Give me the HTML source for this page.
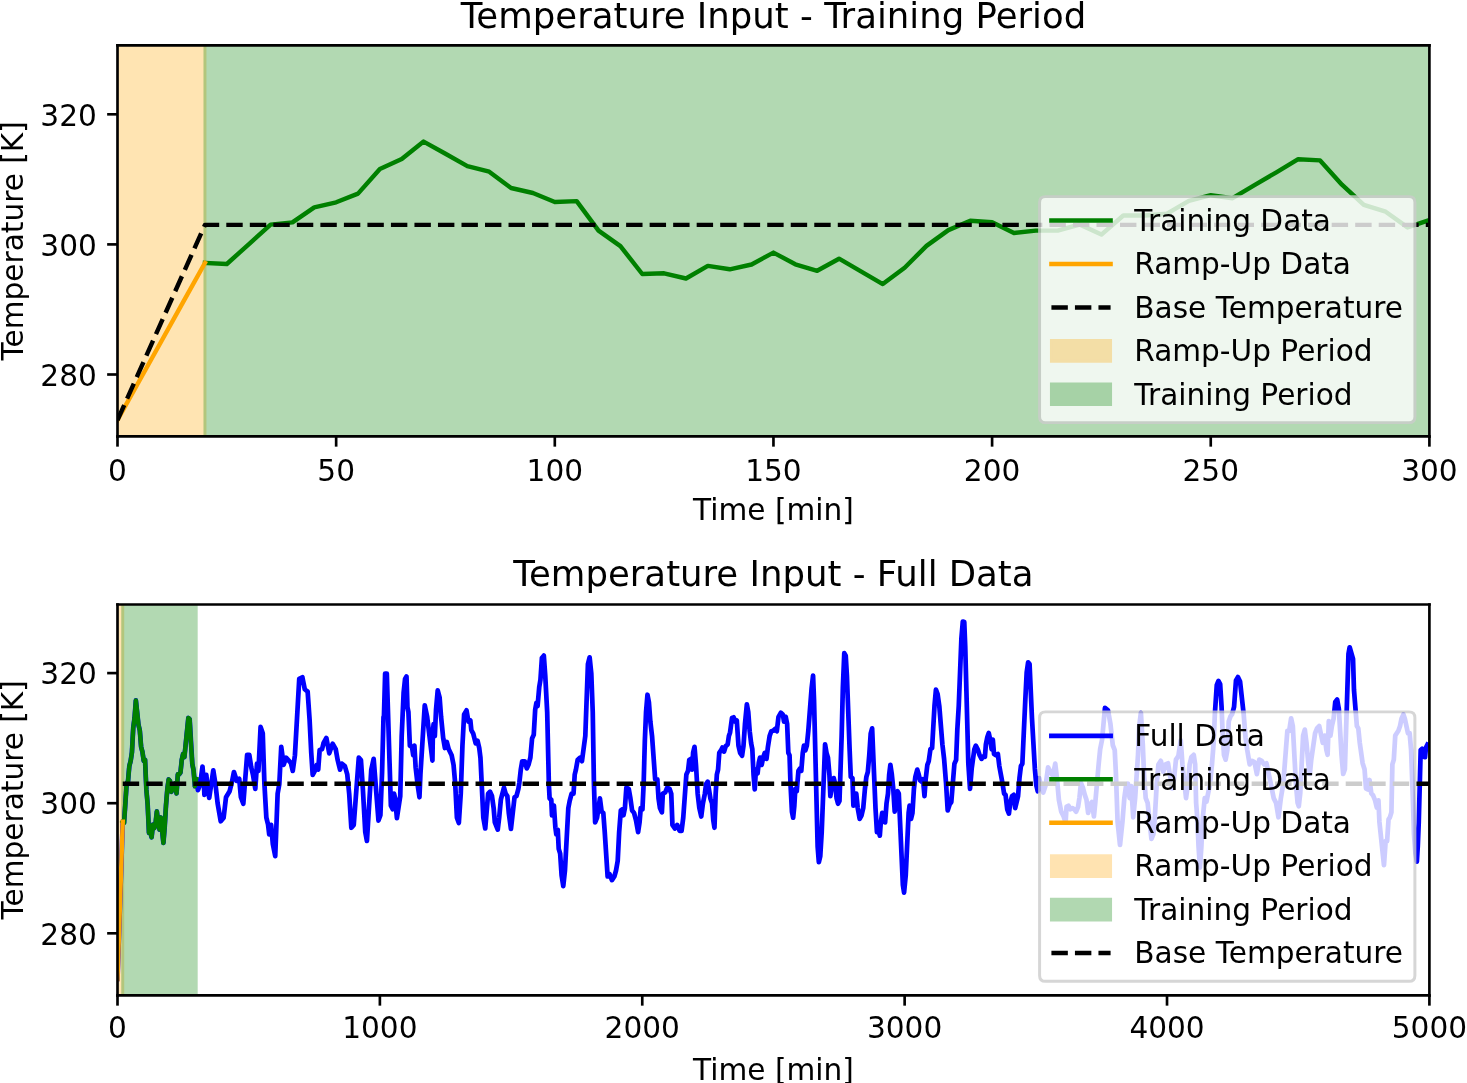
<!DOCTYPE html>
<html><head><meta charset="utf-8"><title>Temperature Input</title>
<style>html,body{margin:0;padding:0;background:#fff;}body{width:1467px;height:1083px;overflow:hidden;}svg{display:block;}text{font-family:"DejaVu Sans","Liberation Sans",sans-serif;}</style>
</head><body>
<svg  width="1467" height="1083" viewBox="0 0 495.887324 366.084507" version="1.1">
 
 <defs>
  <style type="text/css">*{stroke-linejoin: round; stroke-linecap: butt}</style>
 </defs>
 <g id="figure_1">
  <g id="patch_1">
   <path d="M 0 366.084507 
L 495.887324 366.084507 
L 495.887324 0 
L 0 0 
z
" style="fill: #ffffff"/>
  </g>
  <g id="axes_1">
   <g id="patch_2">
    <path d="M 39.71831 147.48169 
L 483.177465 147.48169 
L 483.177465 15.346479 
L 39.71831 15.346479 
z
" style="fill: #ffffff"/>
   </g>
   <g id="patch_3">
    <path d="M 39.71831 147.48169 
L 69.282254 147.48169 
L 69.282254 15.346479 
L 39.71831 15.346479 
z
" clip-path="url(#p11964e3fd9)" style="fill: #ffa500; opacity: 0.3; stroke: #ffa500; stroke-linejoin: miter"/>
   </g>
   <g id="patch_4">
    <path d="M 69.282254 147.48169 
L 483.177465 147.48169 
L 483.177465 15.346479 
L 69.282254 15.346479 
z
" clip-path="url(#p11964e3fd9)" style="fill: #008000; opacity: 0.3; stroke: #008000; stroke-linejoin: miter"/>
   </g>
   <g id="matplotlib.axis_1">
    <g id="xtick_1">
     <g id="line2d_1">
      
      <g>
       <path d="M 0 0 L 0 3.5" transform="translate(39.71831 147.48169)" style="stroke: #000000; stroke-width: 0.9"/>
      </g>
     </g>
     <g id="text_1">
      <text style="font-size: 10px; font-family: 'DejaVu Sans', 'Liberation Sans', sans-serif; text-anchor: middle" x="39.71831" y="162.530128" transform="rotate(-0 39.71831 162.530128)">0</text>
     </g>
    </g>
    <g id="xtick_2">
     <g id="line2d_2">
      <g>
       <path d="M 0 0 L 0 3.5" transform="translate(113.628169 147.48169)" style="stroke: #000000; stroke-width: 0.9"/>
      </g>
     </g>
     <g id="text_2">
      <text style="font-size: 10px; font-family: 'DejaVu Sans', 'Liberation Sans', sans-serif; text-anchor: middle" x="113.628169" y="162.530128" transform="rotate(-0 113.628169 162.530128)">50</text>
     </g>
    </g>
    <g id="xtick_3">
     <g id="line2d_3">
      <g>
       <path d="M 0 0 L 0 3.5" transform="translate(187.538028 147.48169)" style="stroke: #000000; stroke-width: 0.9"/>
      </g>
     </g>
     <g id="text_3">
      <text style="font-size: 10px; font-family: 'DejaVu Sans', 'Liberation Sans', sans-serif; text-anchor: middle" x="187.538028" y="162.530128" transform="rotate(-0 187.538028 162.530128)">100</text>
     </g>
    </g>
    <g id="xtick_4">
     <g id="line2d_4">
      <g>
       <path d="M 0 0 L 0 3.5" transform="translate(261.447887 147.48169)" style="stroke: #000000; stroke-width: 0.9"/>
      </g>
     </g>
     <g id="text_4">
      <text style="font-size: 10px; font-family: 'DejaVu Sans', 'Liberation Sans', sans-serif; text-anchor: middle" x="261.447887" y="162.530128" transform="rotate(-0 261.447887 162.530128)">150</text>
     </g>
    </g>
    <g id="xtick_5">
     <g id="line2d_5">
      <g>
       <path d="M 0 0 L 0 3.5" transform="translate(335.357746 147.48169)" style="stroke: #000000; stroke-width: 0.9"/>
      </g>
     </g>
     <g id="text_5">
      <text style="font-size: 10px; font-family: 'DejaVu Sans', 'Liberation Sans', sans-serif; text-anchor: middle" x="335.357746" y="162.530128" transform="rotate(-0 335.357746 162.530128)">200</text>
     </g>
    </g>
    <g id="xtick_6">
     <g id="line2d_6">
      <g>
       <path d="M 0 0 L 0 3.5" transform="translate(409.267606 147.48169)" style="stroke: #000000; stroke-width: 0.9"/>
      </g>
     </g>
     <g id="text_6">
      <text style="font-size: 10px; font-family: 'DejaVu Sans', 'Liberation Sans', sans-serif; text-anchor: middle" x="409.267606" y="162.530128" transform="rotate(-0 409.267606 162.530128)">250</text>
     </g>
    </g>
    <g id="xtick_7">
     <g id="line2d_7">
      <g>
       <path d="M 0 0 L 0 3.5" transform="translate(483.177465 147.48169)" style="stroke: #000000; stroke-width: 0.9"/>
      </g>
     </g>
     <g id="text_7">
      <text style="font-size: 10px; font-family: 'DejaVu Sans', 'Liberation Sans', sans-serif; text-anchor: middle" x="483.177465" y="162.530128" transform="rotate(-0 483.177465 162.530128)">300</text>
     </g>
    </g>
    <g id="text_8">
     <text style="font-size: 10px; font-family: 'DejaVu Sans', 'Liberation Sans', sans-serif; text-anchor: middle" x="261.447887" y="175.758253" transform="rotate(-0 261.447887 175.758253)">Time [min]</text>
    </g>
   </g>
   <g id="matplotlib.axis_2">
    <g id="ytick_1">
     <g id="line2d_8">
      
      <g>
       <path d="M 0 0 L -3.5 0" transform="translate(39.71831 126.591549)" style="stroke: #000000; stroke-width: 0.9"/>
      </g>
     </g>
     <g id="text_9">
      <text style="font-size: 10px; font-family: 'DejaVu Sans', 'Liberation Sans', sans-serif; text-anchor: end" x="32.71831" y="130.390768" transform="rotate(-0 32.71831 130.390768)">280</text>
     </g>
    </g>
    <g id="ytick_2">
     <g id="line2d_9">
      <g>
       <path d="M 0 0 L -3.5 0" transform="translate(39.71831 82.614085)" style="stroke: #000000; stroke-width: 0.9"/>
      </g>
     </g>
     <g id="text_10">
      <text style="font-size: 10px; font-family: 'DejaVu Sans', 'Liberation Sans', sans-serif; text-anchor: end" x="32.71831" y="86.413303" transform="rotate(-0 32.71831 86.413303)">300</text>
     </g>
    </g>
    <g id="ytick_3">
     <g id="line2d_10">
      <g>
       <path d="M 0 0 L -3.5 0" transform="translate(39.71831 38.63662)" style="stroke: #000000; stroke-width: 0.9"/>
      </g>
     </g>
     <g id="text_11">
      <text style="font-size: 10px; font-family: 'DejaVu Sans', 'Liberation Sans', sans-serif; text-anchor: end" x="32.71831" y="42.435838" transform="rotate(-0 32.71831 42.435838)">320</text>
     </g>
    </g>
    <g id="text_12">
     <text style="font-size: 10px; font-family: 'DejaVu Sans', 'Liberation Sans', sans-serif; text-anchor: middle" x="7.751122" y="81.414085" transform="rotate(-90 7.751122 81.414085)">Temperature [K]</text>
    </g>
   </g>
   <g id="line2d_11">
    <path d="M 69.282254 88.867606 
L 76.673239 89.239437 
L 84.064225 82.580282 
L 91.455211 75.921127 
L 98.846197 75.177465 
L 106.237183 70.073239 
L 113.628169 68.383099 
L 121.019155 65.442254 
L 128.410141 57.126761 
L 135.801127 53.780282 
L 143.192113 47.864789 
L 150.583099 51.988732 
L 157.974085 56.146479 
L 165.36507 58.039437 
L 172.756056 63.549296 
L 180.147042 65.239437 
L 187.538028 68.28169 
L 194.929014 67.977465 
L 202.32 77.949296 
L 209.710986 83.188732 
L 217.101972 92.619718 
L 224.492958 92.383099 
L 231.883944 94.140845 
L 239.27493 89.88169 
L 246.665915 91.030986 
L 254.056901 89.408451 
L 261.447887 85.385915 
L 268.838873 89.340845 
L 276.229859 91.538028 
L 283.620845 87.447887 
L 291.011831 91.707042 
L 298.402817 96.033803 
L 305.793803 90.490141 
L 313.184789 83.121127 
L 320.575775 77.780282 
L 327.966761 74.602817 
L 335.357746 75.109859 
L 342.748732 78.760563 
L 350.139718 77.949296 
L 357.530704 77.949296 
L 364.92169 75.887324 
L 372.312676 79.301408 
L 379.703662 72.84507 
L 387.094648 72.84507 
L 394.485634 72.23662 
L 401.87662 67.909859 
L 409.267606 65.983099 
L 416.658592 66.997183 
L 424.049577 62.569014 
L 431.440563 58.242254 
L 438.831549 53.814085 
L 446.222535 54.219718 
L 453.613521 62.433803 
L 461.004507 69.261972 
L 468.395493 71.560563 
L 475.786479 76.867606 
L 483.177465 74.366197 
" clip-path="url(#p11964e3fd9)" style="fill: none; stroke: #008000; stroke-width: 1.5; stroke-linecap: square"/>
   </g>
   <g id="line2d_12">
    <path d="M 39.71831 141.983662 
L 47.109296 128.704648 
L 54.500282 115.425634 
L 61.891268 102.14662 
L 69.282254 88.867606 
" clip-path="url(#p11964e3fd9)" style="fill: none; stroke: #ffa500; stroke-width: 1.5; stroke-linecap: square"/>
   </g>
   <g id="line2d_13">
    <path d="M 39.71831 141.983662 
L 69.282254 76.017465 
L 483.177465 76.017465 
" clip-path="url(#p11964e3fd9)" style="fill: none; stroke-dasharray: 5.55,2.4; stroke-dashoffset: 0; stroke: #000000; stroke-width: 1.5"/>
   </g>
   <g id="patch_5">
    <path d="M 39.71831 147.48169 
L 39.71831 15.346479 
" style="fill: none; stroke: #000000; stroke-width: 0.9; stroke-linejoin: miter; stroke-linecap: square"/>
   </g>
   <g id="patch_6">
    <path d="M 483.177465 147.48169 
L 483.177465 15.346479 
" style="fill: none; stroke: #000000; stroke-width: 0.9; stroke-linejoin: miter; stroke-linecap: square"/>
   </g>
   <g id="patch_7">
    <path d="M 39.71831 147.48169 
L 483.177465 147.48169 
" style="fill: none; stroke: #000000; stroke-width: 0.9; stroke-linejoin: miter; stroke-linecap: square"/>
   </g>
   <g id="patch_8">
    <path d="M 39.71831 15.346479 
L 483.177465 15.346479 
" style="fill: none; stroke: #000000; stroke-width: 0.9; stroke-linejoin: miter; stroke-linecap: square"/>
   </g>
   <g id="text_13">
    <text style="font-size: 12px; font-family: 'DejaVu Sans', 'Liberation Sans', sans-serif; text-anchor: middle" x="261.447887" y="9.316479" transform="rotate(-0 261.447887 9.316479)">Temperature Input - Training Period</text>
   </g>
   <g id="legend_1" transform="translate(0.101 0.372)">
    <g id="patch_9">
     <path d="M 353.308715 142.48169 
L 476.177465 142.48169 
Q 478.177465 142.48169 478.177465 140.48169 
L 478.177465 68.091065 
Q 478.177465 66.091065 476.177465 66.091065 
L 353.308715 66.091065 
Q 351.308715 66.091065 351.308715 68.091065 
L 351.308715 140.48169 
Q 351.308715 142.48169 353.308715 142.48169 
z
" style="fill: #ffffff; opacity: 0.8; stroke: #cccccc; stroke-linejoin: miter"/>
    </g>
    <g id="line2d_14">
     <path d="M 355.308715 74.189503 
L 365.308715 74.189503 
L 375.308715 74.189503 
" style="fill: none; stroke: #008000; stroke-width: 1.5; stroke-linecap: square"/>
    </g>
    <g id="text_14">
     <text style="font-size: 10px; font-family: 'DejaVu Sans', 'Liberation Sans', sans-serif; text-anchor: start" x="383.308715" y="77.689503" transform="rotate(-0 383.308715 77.689503)">Training Data</text>
    </g>
    <g id="line2d_15">
     <path d="M 355.308715 88.867628 
L 365.308715 88.867628 
L 375.308715 88.867628 
" style="fill: none; stroke: #ffa500; stroke-width: 1.5; stroke-linecap: square"/>
    </g>
    <g id="text_15">
     <text style="font-size: 10px; font-family: 'DejaVu Sans', 'Liberation Sans', sans-serif; text-anchor: start" x="383.308715" y="92.367628" transform="rotate(-0 383.308715 92.367628)">Ramp-Up Data</text>
    </g>
    <g id="line2d_16">
     <path d="M 355.308715 103.545753 
L 365.308715 103.545753 
L 375.308715 103.545753 
" style="fill: none; stroke-dasharray: 5.55,2.4; stroke-dashoffset: 0; stroke: #000000; stroke-width: 1.5"/>
    </g>
    <g id="text_16">
     <text style="font-size: 10px; font-family: 'DejaVu Sans', 'Liberation Sans', sans-serif; text-anchor: start" x="383.308715" y="107.045753" transform="rotate(-0 383.308715 107.045753)">Base Temperature</text>
    </g>
    <g id="patch_10">
     <path d="M 355.308715 121.723878 
L 375.308715 121.723878 
L 375.308715 114.723878 
L 355.308715 114.723878 
z
" style="fill: #ffa500; opacity: 0.3; stroke: #ffa500; stroke-linejoin: miter"/>
    </g>
    <g id="text_17">
     <text style="font-size: 10px; font-family: 'DejaVu Sans', 'Liberation Sans', sans-serif; text-anchor: start" x="383.308715" y="121.723878" transform="rotate(-0 383.308715 121.723878)">Ramp-Up Period</text>
    </g>
    <g id="patch_11">
     <path d="M 355.308715 136.402003 
L 375.308715 136.402003 
L 375.308715 129.402003 
L 355.308715 129.402003 
z
" style="fill: #008000; opacity: 0.3; stroke: #008000; stroke-linejoin: miter"/>
    </g>
    <g id="text_18">
     <text style="font-size: 10px; font-family: 'DejaVu Sans', 'Liberation Sans', sans-serif; text-anchor: start" x="383.308715" y="136.402003" transform="rotate(-0 383.308715 136.402003)">Training Period</text>
    </g>
   </g>
  </g>
  <g id="axes_2">
   <g id="patch_12">
    <path d="M 39.71831 336.439437 
L 483.177465 336.439437 
L 483.177465 204.338028 
L 39.71831 204.338028 
z
" style="fill: #ffffff"/>
   </g>
   <g id="patch_13">
    <path d="M 39.71831 336.439437 
L 41.492146 336.439437 
L 41.492146 204.338028 
L 39.71831 204.338028 
z
" clip-path="url(#p4fdfc51140)" style="fill: #ffa500; opacity: 0.3; stroke: #ffa500; stroke-linejoin: miter"/>
   </g>
   <g id="patch_14">
    <path d="M 41.492146 336.439437 
L 66.325859 336.439437 
L 66.325859 204.338028 
L 41.492146 204.338028 
z
" clip-path="url(#p4fdfc51140)" style="fill: #008000; opacity: 0.3; stroke: #008000; stroke-linejoin: miter"/>
   </g>
   <g id="matplotlib.axis_3">
    <g id="xtick_8">
     <g id="line2d_17">
      <g>
       <path d="M 0 0 L 0 3.5" transform="translate(39.71831 336.439437)" style="stroke: #000000; stroke-width: 0.9"/>
      </g>
     </g>
     <g id="text_19">
      <text style="font-size: 10px; font-family: 'DejaVu Sans', 'Liberation Sans', sans-serif; text-anchor: middle" x="39.71831" y="351.037874" transform="rotate(-0 39.71831 351.037874)">0</text>
     </g>
    </g>
    <g id="xtick_9">
     <g id="line2d_18">
      <g>
       <path d="M 0 0 L 0 3.5" transform="translate(128.410141 336.439437)" style="stroke: #000000; stroke-width: 0.9"/>
      </g>
     </g>
     <g id="text_20">
      <text style="font-size: 10px; font-family: 'DejaVu Sans', 'Liberation Sans', sans-serif; text-anchor: middle" x="128.410141" y="351.037874" transform="rotate(-0 128.410141 351.037874)">1000</text>
     </g>
    </g>
    <g id="xtick_10">
     <g id="line2d_19">
      <g>
       <path d="M 0 0 L 0 3.5" transform="translate(217.101972 336.439437)" style="stroke: #000000; stroke-width: 0.9"/>
      </g>
     </g>
     <g id="text_21">
      <text style="font-size: 10px; font-family: 'DejaVu Sans', 'Liberation Sans', sans-serif; text-anchor: middle" x="217.101972" y="351.037874" transform="rotate(-0 217.101972 351.037874)">2000</text>
     </g>
    </g>
    <g id="xtick_11">
     <g id="line2d_20">
      <g>
       <path d="M 0 0 L 0 3.5" transform="translate(305.793803 336.439437)" style="stroke: #000000; stroke-width: 0.9"/>
      </g>
     </g>
     <g id="text_22">
      <text style="font-size: 10px; font-family: 'DejaVu Sans', 'Liberation Sans', sans-serif; text-anchor: middle" x="305.793803" y="351.037874" transform="rotate(-0 305.793803 351.037874)">3000</text>
     </g>
    </g>
    <g id="xtick_12">
     <g id="line2d_21">
      <g>
       <path d="M 0 0 L 0 3.5" transform="translate(394.485634 336.439437)" style="stroke: #000000; stroke-width: 0.9"/>
      </g>
     </g>
     <g id="text_23">
      <text style="font-size: 10px; font-family: 'DejaVu Sans', 'Liberation Sans', sans-serif; text-anchor: middle" x="394.485634" y="351.037874" transform="rotate(-0 394.485634 351.037874)">4000</text>
     </g>
    </g>
    <g id="xtick_13">
     <g id="line2d_22">
      <g>
       <path d="M 0 0 L 0 3.5" transform="translate(483.177465 336.439437)" style="stroke: #000000; stroke-width: 0.9"/>
      </g>
     </g>
     <g id="text_24">
      <text style="font-size: 10px; font-family: 'DejaVu Sans', 'Liberation Sans', sans-serif; text-anchor: middle" x="483.177465" y="351.037874" transform="rotate(-0 483.177465 351.037874)">5000</text>
     </g>
    </g>
    <g id="text_25">
     <text style="font-size: 10px; font-family: 'DejaVu Sans', 'Liberation Sans', sans-serif; text-anchor: middle" x="261.447887" y="365.215999" transform="rotate(-0 261.447887 365.215999)">Time [min]</text>
    </g>
   </g>
   <g id="matplotlib.axis_4">
    <g id="ytick_4">
     <g id="line2d_23">
      <g>
       <path d="M 0 0 L -3.5 0" transform="translate(39.71831 315.48169)" style="stroke: #000000; stroke-width: 0.9"/>
      </g>
     </g>
     <g id="text_26">
      <text style="font-size: 10px; font-family: 'DejaVu Sans', 'Liberation Sans', sans-serif; text-anchor: end" x="32.71831" y="319.280909" transform="rotate(-0 32.71831 319.280909)">280</text>
     </g>
    </g>
    <g id="ytick_5">
     <g id="line2d_24">
      <g>
       <path d="M 0 0 L -3.5 0" transform="translate(39.71831 271.504225)" style="stroke: #000000; stroke-width: 0.9"/>
      </g>
     </g>
     <g id="text_27">
      <text style="font-size: 10px; font-family: 'DejaVu Sans', 'Liberation Sans', sans-serif; text-anchor: end" x="32.71831" y="275.303444" transform="rotate(-0 32.71831 275.303444)">300</text>
     </g>
    </g>
    <g id="ytick_6">
     <g id="line2d_25">
      <g>
       <path d="M 0 0 L -3.5 0" transform="translate(39.71831 227.526761)" style="stroke: #000000; stroke-width: 0.9"/>
      </g>
     </g>
     <g id="text_28">
      <text style="font-size: 10px; font-family: 'DejaVu Sans', 'Liberation Sans', sans-serif; text-anchor: end" x="32.71831" y="231.325979" transform="rotate(-0 32.71831 231.325979)">320</text>
     </g>
    </g>
    <g id="text_29">
     <text style="font-size: 10px; font-family: 'DejaVu Sans', 'Liberation Sans', sans-serif; text-anchor: middle" x="7.751122" y="270.388732" transform="rotate(-90 7.751122 270.388732)">Temperature [K]</text>
    </g>
   </g>
   <g id="line2d_26">
    <path d="M 39.71831 330.873803 
L 41.492146 277.757746 
L 41.935606 278.129577 
L 42.822524 264.811268 
L 43.265983 264.067606 
L 43.709442 258.96338 
L 44.152901 257.273239 
L 44.596361 254.332394 
L 45.03982 246.016901 
L 45.483279 242.670423 
L 45.926738 236.75493 
L 46.813656 245.03662 
L 47.257115 246.929577 
L 47.700575 252.439437 
L 48.144034 254.129577 
L 48.587493 257.171831 
L 49.030952 256.867606 
L 49.474411 266.839437 
L 49.91787 272.078873 
L 50.36133 281.509859 
L 50.804789 281.273239 
L 51.248248 283.030986 
L 51.691707 278.771831 
L 52.135166 279.921127 
L 52.578625 278.298592 
L 53.022085 274.276056 
L 53.465544 278.230986 
L 53.909003 280.428169 
L 54.352462 276.338028 
L 55.23938 284.923944 
L 55.682839 279.380282 
L 56.126299 272.011268 
L 56.569758 266.670423 
L 57.013217 263.492958 
L 57.456676 264 
L 57.900135 267.650704 
L 58.343594 266.839437 
L 58.787054 266.839437 
L 59.230513 264.777465 
L 59.673972 268.191549 
L 60.117431 261.735211 
L 60.56089 261.735211 
L 61.004349 261.126761 
L 61.447808 256.8 
L 61.891268 254.873239 
L 62.334727 255.887324 
L 63.665104 242.704225 
L 64.108563 243.109859 
L 64.995482 258.152113 
L 65.438941 260.450704 
L 65.8824 265.757746 
L 66.325859 263.256338 
L 66.335492 263.410378 
L 66.903607 267.062543 
L 67.63404 265.27704 
L 68.445632 259.108939 
L 68.932587 265.033563 
L 69.094906 268.685728 
L 69.744179 261.949512 
L 70.231135 266.656747 
L 70.71809 269.740798 
L 72.097797 260.407487 
L 72.82823 265.033563 
L 73.558663 271.526301 
L 74.613733 277.613242 
L 75.587644 276.395854 
L 76.399236 269.49732 
L 77.616624 267.468339 
L 78.428216 264.22197 
L 79.07749 260.975602 
L 80.051401 263.978493 
L 80.862993 263.24806 
L 81.431108 269.49732 
L 82.2427 271.688619 
L 83.541247 255.132137 
L 84.271681 255.132137 
L 84.920954 259.352417 
L 85.489069 261.787194 
L 86.300661 266.656747 
L 86.868776 258.135029 
L 87.355731 260.569805 
L 88.086164 245.717667 
L 88.816597 247.827807 
L 89.384712 265.033563 
L 90.033985 276.395854 
L 90.6021 278.668312 
L 91.007896 282.077 
L 91.65717 278.830631 
L 92.225284 285.323369 
L 93.036877 289.38133 
L 93.848469 268.279932 
L 94.416584 265.033563 
L 95.065857 252.453883 
L 95.87745 258.540825 
L 96.689042 256.106048 
L 98.312226 257.891551 
L 98.9615 260.569805 
L 99.691933 255.294456 
L 101.152799 229.485822 
L 102.207869 228.917708 
L 103.019461 232.975669 
L 103.993372 233.787261 
L 104.642646 243.120572 
L 105.21076 254.482864 
L 105.697716 261.949512 
L 106.428149 260.569805 
L 107.077423 258.540825 
L 107.564378 260.164009 
L 108.051333 253.508953 
L 108.862925 253.265475 
L 109.349881 251.236495 
L 110.323791 249.450992 
L 111.297702 254.645182 
L 112.433931 251.398813 
L 113.489001 253.265475 
L 114.138275 256.91764 
L 114.949867 260.164009 
L 115.517982 258.135029 
L 116.573052 258.946621 
L 117.384644 261.787194 
L 118.033918 268.279932 
L 118.764351 279.804542 
L 119.575943 278.830631 
L 121.280287 256.106048 
L 122.01072 256.91764 
L 122.659994 266.656747 
L 123.471586 281.265408 
L 124.0397 284.268299 
L 125.500566 260.164009 
L 126.312159 256.511844 
L 127.935343 277.369765 
L 128.584617 275.584262 
L 129.152732 260.975602 
L 129.639687 242.30898 
L 129.777658 242.30898 
L 130.183454 227.70032 
L 130.751568 227.70032 
L 132.131275 272.337893 
L 132.780549 273.555281 
L 133.186345 268.279932 
L 133.592141 269.903116 
L 134.160256 276.558173 
L 135.296485 269.091524 
L 135.78344 248.801718 
L 136.432714 234.193058 
L 136.919669 229.485822 
L 137.406625 228.67423 
L 137.731262 239.062611 
L 138.055898 240.685795 
L 138.542854 252.048087 
L 139.273287 252.453883 
L 139.679083 255.294456 
L 140.084879 252.048087 
L 140.490675 259.352417 
L 141.139949 265.033563 
L 141.789223 269.49732 
L 142.11386 261.787194 
L 143.574726 238.413337 
L 144.386318 242.30898 
L 146.171821 257.079959 
L 146.334139 247.178533 
L 146.577617 244.743757 
L 146.983413 248.801718 
L 147.389209 239.874203 
L 147.957324 233.381465 
L 148.606598 235.816242 
L 149.093553 242.30898 
L 149.823986 249.61331 
L 150.392101 252.859679 
L 151.041374 250.830698 
L 151.690648 253.265475 
L 152.664559 255.294456 
L 153.313833 258.540825 
L 153.881947 265.033563 
L 154.450062 276.395854 
L 155.099336 278.181357 
L 155.748609 268.279932 
L 156.316724 252.048087 
L 156.884838 241.497388 
L 157.696431 240.117681 
L 158.345704 243.932164 
L 158.994978 243.526368 
L 159.319615 246.772737 
L 159.968889 247.990126 
L 160.780481 251.236495 
L 161.429755 250.424902 
L 161.99787 252.859679 
L 162.403666 256.106048 
L 163.377576 276.395854 
L 164.02685 280.048019 
L 165.000761 268.279932 
L 165.650035 267.630658 
L 166.299308 269.091524 
L 166.867423 273.149485 
L 167.273219 278.019039 
L 168.24713 280.453815 
L 168.734085 276.395854 
L 169.3022 270.308912 
L 170.35727 266.250951 
L 170.925384 268.279932 
L 171.493499 269.091524 
L 171.980454 274.77267 
L 172.710887 280.210338 
L 173.928276 269.49732 
L 174.577549 269.091524 
L 175.226823 266.656747 
L 175.55146 264.627767 
L 176.038415 260.164009 
L 176.525371 257.323436 
L 177.418122 257.323436 
L 178.067396 259.758213 
L 178.635511 258.540825 
L 179.284784 256.106048 
L 179.852899 249.61331 
L 180.421013 248.395922 
L 180.907969 239.874203 
L 181.313765 237.601745 
L 181.719561 238.656815 
L 182.287676 232.164077 
L 182.693472 229.7293 
L 183.180427 222.42497 
L 183.829701 221.613378 
L 184.316656 228.511912 
L 184.96593 240.685795 
L 185.534045 265.033563 
L 185.777522 269.903116 
L 186.345637 270.308912 
L 186.589115 275.584262 
L 187.238388 272.337893 
L 187.725344 279.642223 
L 188.049981 282.077 
L 188.536936 280.453815 
L 188.861573 286.946553 
L 189.348528 288.569738 
L 189.835483 295.874068 
L 190.403598 299.526233 
L 190.971713 294.250883 
L 192.107942 273.149485 
L 192.570549 270.714708 
L 193.219823 268.279932 
L 193.869097 268.279932 
L 194.274893 261.787194 
L 194.680689 260.164009 
L 195.248804 256.91764 
L 196.060396 256.106048 
L 196.70967 257.323436 
L 197.845899 248.801718 
L 198.73865 224.453951 
L 199.306765 222.181492 
L 199.87488 227.70032 
L 200.361835 240.685795 
L 200.767631 265.033563 
L 201.173427 278.019039 
L 201.822701 276.395854 
L 202.796612 269.903116 
L 203.364726 274.366874 
L 203.932841 274.77267 
L 204.419796 281.265408 
L 205.393707 296.279864 
L 206.042981 295.468272 
L 206.854573 297.497252 
L 207.666165 296.279864 
L 208.23428 294.250883 
L 208.802394 291.004514 
L 209.28935 281.265408 
L 209.857464 273.961077 
L 210.425579 273.555281 
L 210.750216 275.584262 
L 211.237171 273.149485 
L 211.724126 266.250951 
L 212.535719 266.656747 
L 213.103833 269.903116 
L 213.671948 273.961077 
L 214.321221 274.77267 
L 214.970495 277.207446 
L 215.700928 281.265408 
L 216.187884 278.019039 
L 216.59368 273.149485 
L 217.161794 273.555281 
L 217.56759 265.033563 
L 217.973387 250.424902 
L 218.379183 240.685795 
L 218.866138 234.842331 
L 219.353093 237.439426 
L 219.840049 243.932164 
L 220.408163 248.801718 
L 221.463233 263.410378 
L 222.193666 263.410378 
L 222.599462 269.903116 
L 223.086418 273.149485 
L 223.735691 274.610351 
L 224.060328 268.279932 
L 224.871921 267.874136 
L 225.521194 266.250951 
L 226.332787 266.656747 
L 226.900901 268.279932 
L 227.306697 278.830631 
L 228.11829 280.048019 
L 228.929882 278.830631 
L 229.741474 280.859611 
L 230.390748 280.859611 
L 230.958862 276.395854 
L 232.013932 261.787194 
L 232.582047 260.569805 
L 232.987843 256.91764 
L 233.555958 256.511844 
L 233.961754 260.164009 
L 234.286391 254.482864 
L 234.773346 252.453883 
L 235.260301 258.540825 
L 235.828416 268.279932 
L 236.39653 273.149485 
L 237.045804 275.990058 
L 237.613919 271.526301 
L 238.263193 268.279932 
L 238.668989 265.033563 
L 239.237103 264.22197 
L 240.129855 269.903116 
L 240.697969 271.526301 
L 241.103765 277.207446 
L 241.509562 279.804542 
L 241.915358 268.279932 
L 242.321154 261.787194 
L 242.72695 260.164009 
L 243.132746 254.482864 
L 243.700861 253.671271 
L 244.187816 252.697361 
L 244.755931 254.077067 
L 245.324045 252.210405 
L 245.973319 251.642291 
L 246.379115 248.801718 
L 246.784911 247.58433 
L 247.434185 242.714776 
L 248.0023 242.471298 
L 248.570414 243.932164 
L 249.057369 243.526368 
L 249.625484 252.048087 
L 250.193599 254.482864 
L 250.842872 255.456774 
L 251.329828 252.048087 
L 251.816783 244.743757 
L 252.466057 238.0887 
L 252.928664 240.685795 
L 253.41562 247.178533 
L 253.902575 251.236495 
L 254.308371 253.265475 
L 254.714167 261.787194 
L 255.119963 266.819066 
L 255.52576 260.164009 
L 256.093874 261.381398 
L 256.49967 257.729233 
L 256.905466 256.106048 
L 257.473581 258.540825 
L 257.960536 256.106048 
L 258.528651 254.482864 
L 259.096765 256.511844 
L 259.583721 252.453883 
L 260.151835 248.801718 
L 260.71995 247.178533 
L 261.369224 247.016215 
L 262.018498 246.366941 
L 262.586612 247.178533 
L 263.154727 242.30898 
L 263.966319 240.929273 
L 264.615593 241.497388 
L 265.021389 243.932164 
L 265.589503 242.30898 
L 266.076459 244.743757 
L 266.482255 254.482864 
L 266.888051 255.294456 
L 267.212688 265.033563 
L 267.699643 274.366874 
L 268.105439 276.395854 
L 268.511235 272.337893 
L 268.835872 266.656747 
L 269.322828 267.468339 
L 269.890942 260.569805 
L 270.459057 259.758213 
L 270.864853 260.569805 
L 271.351808 254.482864 
L 271.757604 252.048087 
L 272.24456 253.671271 
L 272.731515 252.048087 
L 273.21847 247.178533 
L 274.3547 232.569873 
L 274.841655 228.349593 
L 275.166292 236.627834 
L 276.38368 286.134961 
L 276.789476 291.410311 
L 277.276432 289.38133 
L 277.763387 281.265408 
L 278.899616 251.642291 
L 279.386572 254.482864 
L 279.873527 256.106048 
L 280.360482 261.787194 
L 280.685119 269.091524 
L 281.253234 265.033563 
L 281.821348 263.004582 
L 282.308304 265.033563 
L 282.795259 269.903116 
L 283.282214 271.688619 
L 283.76917 270.714708 
L 284.499603 248.801718 
L 284.905399 232.569873 
L 285.392354 220.801786 
L 285.879309 221.613378 
L 286.285106 228.511912 
L 287.177857 252.859679 
L 287.583653 262.598786 
L 288.151768 263.004582 
L 288.476405 272.337893 
L 288.96336 268.279932 
L 289.450315 268.279932 
L 289.937271 273.149485 
L 290.586544 276.80165 
L 291.235818 275.584262 
L 291.803933 273.149485 
L 292.372047 266.656747 
L 292.859003 262.598786 
L 293.345958 260.975602 
L 293.832913 255.294456 
L 294.319869 247.990126 
L 294.806824 246.204623 
L 295.456098 261.787194 
L 295.943053 273.149485 
L 296.430009 281.265408 
L 296.916964 280.453815 
L 297.403919 282.482796 
L 297.728556 278.019039 
L 298.215512 274.77267 
L 298.702467 275.178466 
L 299.189422 278.019039 
L 299.676378 271.526301 
L 300.163333 268.279932 
L 300.569129 261.787194 
L 300.974925 258.540825 
L 301.461881 261.787194 
L 301.948836 266.656747 
L 302.435791 274.366874 
L 302.922747 268.279932 
L 303.409702 267.468339 
L 303.815498 268.279932 
L 305.195205 299.120437 
L 305.601001 301.717532 
L 306.169116 295.874068 
L 307.143026 274.77267 
L 307.467663 272.337893 
L 307.954618 276.80165 
L 308.441574 274.77267 
L 308.928529 266.656747 
L 309.415485 262.598786 
L 310.064758 260.164009 
L 310.551714 261.787194 
L 311.038669 263.816174 
L 311.525624 264.22197 
L 312.01258 263.410378 
L 312.499535 269.091524 
L 312.905331 263.410378 
L 313.473446 258.540825 
L 313.936053 257.327494 
L 314.504168 253.269533 
L 315.072282 252.863737 
L 315.883875 238.660873 
L 316.37083 233.142046 
L 316.938945 234.602912 
L 317.507059 238.660873 
L 318.562129 251.646349 
L 319.130244 256.515902 
L 319.779517 264.631825 
L 320.347632 273.965135 
L 320.996906 271.936155 
L 321.56502 271.124563 
L 322.62009 258.139087 
L 323.188205 256.921698 
L 323.594001 246.776795 
L 324.080956 238.660873 
L 324.973708 215.93629 
L 325.460663 210.092826 
L 325.947618 210.255144 
L 326.272255 218.371067 
L 327.327325 258.139087 
L 327.89544 266.660805 
L 328.463554 259.762271 
L 329.356306 253.269533 
L 329.843261 252.052145 
L 330.492535 253.269533 
L 331.141809 255.298514 
L 331.791083 256.515902 
L 332.359197 255.70431 
L 332.927312 255.866628 
L 333.251949 251.646349 
L 333.738904 249.211572 
L 334.225859 247.750706 
L 334.712815 250.023164 
L 335.19977 253.269533 
L 335.605566 250.023164 
L 336.011362 254.892718 
L 336.660636 255.298514 
L 337.30991 254.892718 
L 337.796865 258.950679 
L 338.851935 264.631825 
L 339.42005 268.28399 
L 339.907005 268.689786 
L 340.47512 273.559339 
L 341.043234 275.020205 
L 341.53019 271.124563 
L 342.098304 269.095582 
L 342.666419 268.689786 
L 343.153374 273.153543 
L 344.127285 269.095582 
L 344.61424 263.00864 
L 345.101195 258.950679 
L 345.588151 258.139087 
L 346.562061 237.037688 
L 347.049017 227.298581 
L 347.535972 223.889894 
L 348.022927 224.458009 
L 348.83452 242.718834 
L 349.80843 259.762271 
L 350.295386 265.443417 
L 350.782341 267.472397 
L 351.269296 263.00864 
L 351.837411 265.443417 
L 352.649003 267.878194 
L 353.460596 265.443417 
L 354.272188 259.356475 
L 355.08378 260.979659 
L 355.895372 262.197048 
L 356.706964 258.139087 
L 357.275079 263.00864 
L 357.924353 270.31297 
L 358.735945 274.370931 
L 359.547537 275.994116 
L 360.196811 278.023097 
L 360.521448 272.747747 
L 361.170722 272.341951 
L 361.819996 273.559339 
L 362.469269 273.153543 
L 363.118543 273.559339 
L 363.767817 274.370931 
L 364.417091 272.747747 
L 364.904046 269.501378 
L 365.391001 264.631825 
L 366.040275 266.255009 
L 366.689549 268.689786 
L 367.257664 270.31297 
L 367.825778 274.776728 
L 368.475052 271.936155 
L 369.124326 271.124563 
L 369.7736 275.994116 
L 370.260555 271.124563 
L 371.396784 258.139087 
L 371.883739 253.269533 
L 372.533013 250.023164 
L 373.506924 239.310147 
L 374.537646 240.146087 
L 375.349238 244.609844 
L 376.160831 251.914174 
L 376.810104 253.537359 
L 377.2159 261.653281 
L 377.784015 277.885126 
L 378.595607 285.595252 
L 379.407199 277.885126 
L 380.056473 269.769203 
L 380.624588 265.711242 
L 381.273862 264.89965 
L 381.841976 269.769203 
L 382.410091 265.711242 
L 383.059365 276.261941 
L 383.708638 269.769203 
L 384.682549 255.160543 
L 385.088345 245.421436 
L 385.65646 240.957679 
L 386.305734 251.914174 
L 386.71153 261.653281 
L 387.279644 269.769203 
L 387.928918 271.392388 
L 389.227466 283.566272 
L 389.876739 281.943087 
L 390.363695 276.261941 
L 391.012969 264.89965 
L 391.581083 258.406912 
L 392.392675 257.189524 
L 393.204268 260.841689 
L 394.01586 258.406912 
L 394.827452 258.001116 
L 396.207159 266.522834 
L 396.856433 263.276466 
L 397.505707 256.783728 
L 398.317299 255.566339 
L 399.128891 250.29099 
L 399.697006 258.406912 
L 400.914394 269.769203 
L 401.563668 264.89965 
L 402.131782 258.406912 
L 402.699897 255.972135 
L 403.511489 255.160543 
L 403.998444 258.406912 
L 404.323081 271.392388 
L 404.810037 277.885126 
L 405.134674 286.001048 
L 405.621629 293.305378 
L 406.108584 286.001048 
L 406.59554 276.261941 
L 407.244813 269.769203 
L 407.812928 270.986592 
L 409.030316 264.89965 
L 409.67959 258.406912 
L 410.247705 251.102582 
L 410.653501 241.363475 
L 411.302775 231.624368 
L 411.870889 230.163502 
L 412.439004 231.218572 
L 412.925959 238.928698 
L 413.250596 247.044621 
L 413.737551 255.160543 
L 414.305666 256.783728 
L 414.87378 253.537359 
L 415.360736 243.798252 
L 415.92885 242.175067 
L 416.496965 241.363475 
L 417.146239 238.928698 
L 417.795513 230.001184 
L 418.444786 228.864954 
L 419.175219 230.40698 
L 420.392608 241.363475 
L 421.041882 249.479397 
L 421.609996 253.537359 
L 422.421588 258.406912 
L 423.233181 257.189524 
L 424.044773 257.59532 
L 424.856365 261.653281 
L 425.667957 256.783728 
L 426.47955 257.189524 
L 427.291142 258.406912 
L 428.102734 258.001116 
L 429.725919 265.711242 
L 430.537511 269.769203 
L 431.349103 271.392388 
L 432.160695 276.261941 
L 432.972288 269.769203 
L 433.78388 264.89965 
L 435.163587 247.044621 
L 435.784618 247.024173 
L 436.433502 242.806425 
L 437.001276 245.401962 
L 438.055713 264.868491 
L 438.623487 271.357334 
L 439.029039 272.573992 
L 439.515702 268.112913 
L 440.489029 248.646383 
L 441.056803 246.61862 
L 441.624576 251.0797 
L 442.273461 258.379648 
L 442.760124 261.62407 
L 443.246787 256.757437 
L 444.544556 247.835278 
L 445.19344 246.213067 
L 445.923435 245.401962 
L 447.140093 251.0797 
L 447.788977 248.646383 
L 448.356751 253.513016 
L 448.762304 255.135226 
L 449.167857 243.779751 
L 449.73563 248.646383 
L 450.222294 245.401962 
L 450.790067 242.968646 
L 451.357841 237.290908 
L 452.006725 236.479803 
L 452.574499 239.724224 
L 453.466715 255.135226 
L 454.034489 261.62407 
L 454.602263 260.001859 
L 455.818921 221.0688 
L 456.224473 218.797705 
L 457.360021 222.691011 
L 457.684463 233.235381 
L 458.65779 245.401962 
L 459.144453 246.213067 
L 459.631116 251.0797 
L 460.604442 257.974095 
L 461.253327 260.001859 
L 461.73999 266.490702 
L 462.388874 266.896255 
L 462.956648 263.651833 
L 463.524422 268.112913 
L 464.173306 268.924018 
L 464.82219 270.546229 
L 465.389964 272.979545 
L 465.957738 270.546229 
L 466.28218 277.846177 
L 467.82328 292.446074 
L 468.391054 284.33502 
L 468.877717 284.33502 
L 469.364381 277.035072 
L 469.851044 276.223966 
L 470.337707 274.601756 
L 470.662149 258.379648 
L 471.148812 256.757437 
L 471.635476 248.646383 
L 472.689913 247.024173 
L 473.257686 245.401962 
L 473.74435 242.968646 
L 474.393234 241.508656 
L 474.879897 242.968646 
L 475.934334 247.835278 
L 476.502108 247.835278 
L 476.988771 253.513016 
L 477.637656 271.357334 
L 477.962098 281.901704 
L 478.448761 288.390547 
L 478.935424 291.229416 
L 479.259866 285.957231 
L 479.584308 277.846177 
L 480.233193 253.513016 
L 480.719856 253.107463 
L 481.206519 253.513016 
L 481.693182 255.946332 
L 482.017625 252.70191 
L 482.504288 251.728584 
L 482.504288 251.728584 
" clip-path="url(#p4fdfc51140)" style="fill: none; stroke: #0000ff; stroke-width: 1.6; stroke-linecap: square"/>
   </g>
   <g id="line2d_27">
    <path d="M 41.492146 277.757746 
L 41.935606 278.129577 
L 42.379065 271.470423 
L 42.822524 264.811268 
L 43.265983 264.067606 
L 43.709442 258.96338 
L 44.152901 257.273239 
L 44.596361 254.332394 
L 45.03982 246.016901 
L 45.483279 242.670423 
L 45.926738 236.75493 
L 46.370197 240.878873 
L 46.813656 245.03662 
L 47.257115 246.929577 
L 47.700575 252.439437 
L 48.144034 254.129577 
L 48.587493 257.171831 
L 49.030952 256.867606 
L 49.474411 266.839437 
L 49.91787 272.078873 
L 50.36133 281.509859 
L 50.804789 281.273239 
L 51.248248 283.030986 
L 51.691707 278.771831 
L 52.135166 279.921127 
L 52.578625 278.298592 
L 53.022085 274.276056 
L 53.465544 278.230986 
L 53.909003 280.428169 
L 54.352462 276.338028 
L 54.795921 280.597183 
L 55.23938 284.923944 
L 55.682839 279.380282 
L 56.126299 272.011268 
L 56.569758 266.670423 
L 57.013217 263.492958 
L 57.456676 264 
L 57.900135 267.650704 
L 58.343594 266.839437 
L 58.787054 266.839437 
L 59.230513 264.777465 
L 59.673972 268.191549 
L 60.117431 261.735211 
L 60.56089 261.735211 
L 61.004349 261.126761 
L 61.447808 256.8 
L 61.891268 254.873239 
L 62.334727 255.887324 
L 62.778186 251.459155 
L 63.221645 247.132394 
L 63.665104 242.704225 
L 64.108563 243.109859 
L 64.552023 251.323944 
L 64.995482 258.152113 
L 65.438941 260.450704 
L 65.8824 265.757746 
L 66.325859 263.256338 
" clip-path="url(#p4fdfc51140)" style="fill: none; stroke: #008000; stroke-width: 1.5; stroke-linecap: square"/>
   </g>
   <g id="line2d_28">
    <path d="M 39.71831 330.873803 
L 40.161769 317.594789 
L 40.605228 304.315775 
L 41.048687 291.036761 
L 41.492146 277.757746 
" clip-path="url(#p4fdfc51140)" style="fill: none; stroke: #ffa500; stroke-width: 1.5; stroke-linecap: square"/>
   </g>
   <g id="patch_15">
    <path d="M 39.71831 336.439437 
L 39.71831 204.338028 
" style="fill: none; stroke: #000000; stroke-width: 0.9; stroke-linejoin: miter; stroke-linecap: square"/>
   </g>
   <g id="patch_16">
    <path d="M 483.177465 336.439437 
L 483.177465 204.338028 
" style="fill: none; stroke: #000000; stroke-width: 0.9; stroke-linejoin: miter; stroke-linecap: square"/>
   </g>
   <g id="patch_17">
    <path d="M 39.71831 336.439437 
L 483.177465 336.439437 
" style="fill: none; stroke: #000000; stroke-width: 0.9; stroke-linejoin: miter; stroke-linecap: square"/>
   </g>
   <g id="patch_18">
    <path d="M 39.71831 204.338028 
L 483.177465 204.338028 
" style="fill: none; stroke: #000000; stroke-width: 0.9; stroke-linejoin: miter; stroke-linecap: square"/>
   </g>
   <g id="line2d_29">
    <path d="M 41.492146 264.907606 
L 483.177465 264.907606 
" clip-path="url(#p4fdfc51140)" style="fill: none; stroke-dasharray: 5.55,2.4; stroke-dashoffset: 0; stroke: #000000; stroke-width: 1.5"/>
   </g>
   <g id="text_30">
    <text style="font-size: 12px; font-family: 'DejaVu Sans', 'Liberation Sans', sans-serif; text-anchor: middle" x="261.447887" y="198.088028" transform="rotate(-0 261.447887 198.088028)">Temperature Input - Full Data</text>
   </g>
   <g id="legend_2" transform="translate(0.101 0.270)">
    <g id="patch_19">
     <path d="M 353.308715 331.439437 
L 476.177465 331.439437 
Q 478.177465 331.439437 478.177465 329.439437 
L 478.177465 242.370687 
Q 478.177465 240.370687 476.177465 240.370687 
L 353.308715 240.370687 
Q 351.308715 240.370687 351.308715 242.370687 
L 351.308715 329.439437 
Q 351.308715 331.439437 353.308715 331.439437 
z
" style="fill: #ffffff; opacity: 0.8; stroke: #cccccc; stroke-linejoin: miter"/>
    </g>
    <g id="line2d_30">
     <path d="M 355.308715 248.469124 
L 365.308715 248.469124 
L 375.308715 248.469124 
" style="fill: none; stroke: #0000ff; stroke-width: 1.6; stroke-linecap: square"/>
    </g>
    <g id="text_31">
     <text style="font-size: 10px; font-family: 'DejaVu Sans', 'Liberation Sans', sans-serif; text-anchor: start" x="383.308715" y="251.969124" transform="rotate(-0 383.308715 251.969124)">Full Data</text>
    </g>
    <g id="line2d_31">
     <path d="M 355.308715 263.147249 
L 365.308715 263.147249 
L 375.308715 263.147249 
" style="fill: none; stroke: #008000; stroke-width: 1.5; stroke-linecap: square"/>
    </g>
    <g id="text_32">
     <text style="font-size: 10px; font-family: 'DejaVu Sans', 'Liberation Sans', sans-serif; text-anchor: start" x="383.308715" y="266.647249" transform="rotate(-0 383.308715 266.647249)">Training Data</text>
    </g>
    <g id="line2d_32">
     <path d="M 355.308715 277.825374 
L 365.308715 277.825374 
L 375.308715 277.825374 
" style="fill: none; stroke: #ffa500; stroke-width: 1.5; stroke-linecap: square"/>
    </g>
    <g id="text_33">
     <text style="font-size: 10px; font-family: 'DejaVu Sans', 'Liberation Sans', sans-serif; text-anchor: start" x="383.308715" y="281.325374" transform="rotate(-0 383.308715 281.325374)">Ramp-Up Data</text>
    </g>
    <g id="patch_20">
     <path d="M 355.308715 296.003499 
L 375.308715 296.003499 
L 375.308715 289.003499 
L 355.308715 289.003499 
z
" style="fill: #ffa500; opacity: 0.3; stroke: #ffa500; stroke-linejoin: miter"/>
    </g>
    <g id="text_34">
     <text style="font-size: 10px; font-family: 'DejaVu Sans', 'Liberation Sans', sans-serif; text-anchor: start" x="383.308715" y="296.003499" transform="rotate(-0 383.308715 296.003499)">Ramp-Up Period</text>
    </g>
    <g id="patch_21">
     <path d="M 355.308715 310.681624 
L 375.308715 310.681624 
L 375.308715 303.681624 
L 355.308715 303.681624 
z
" style="fill: #008000; opacity: 0.3; stroke: #008000; stroke-linejoin: miter"/>
    </g>
    <g id="text_35">
     <text style="font-size: 10px; font-family: 'DejaVu Sans', 'Liberation Sans', sans-serif; text-anchor: start" x="383.308715" y="310.681624" transform="rotate(-0 383.308715 310.681624)">Training Period</text>
    </g>
    <g id="line2d_33">
     <path d="M 355.308715 321.859749 
L 365.308715 321.859749 
L 375.308715 321.859749 
" style="fill: none; stroke-dasharray: 5.55,2.4; stroke-dashoffset: 0; stroke: #000000; stroke-width: 1.5"/>
    </g>
    <g id="text_36">
     <text style="font-size: 10px; font-family: 'DejaVu Sans', 'Liberation Sans', sans-serif; text-anchor: start" x="383.308715" y="325.359749" transform="rotate(-0 383.308715 325.359749)">Base Temperature</text>
    </g>
   </g>
  </g>
 </g>
 <defs>
  <clipPath id="p11964e3fd9">
   <rect x="39.71831" y="15.346479" width="443.459155" height="132.135211"/>
  </clipPath>
  <clipPath id="p4fdfc51140">
   <rect x="39.71831" y="204.338028" width="443.459155" height="132.101408"/>
  </clipPath>
 </defs>
</svg>

</body></html>
